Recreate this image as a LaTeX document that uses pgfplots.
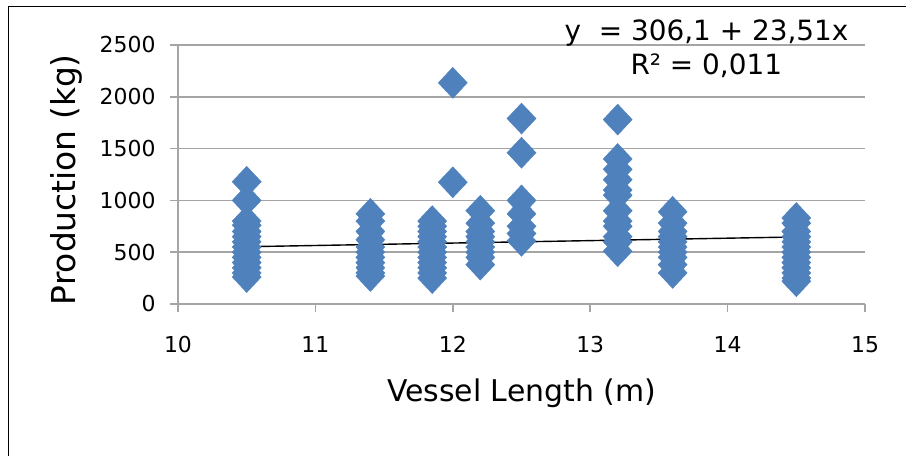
\documentclass[border=0pt]{standalone}
\usepackage{pgfplots}
\pgfplotsset{compat=1.18}
\usepackage{fontspec}
\setmainfont{DejaVu Sans}
\definecolor{mk}{RGB}{79,129,189}
\definecolor{gridc}{RGB}{165,165,165}
\begin{document}
\begin{tikzpicture}[x=1bp,y=1bp]
\useasboundingbox (0,0) rectangle (906,456);
\draw[line width=1.5bp, black] (8.5,-20) rectangle (940,449.5);
\begin{axis}[
  at={(178bp,152bp)}, anchor=south west,
  scale only axis, width=687bp, height=259bp,
  xmin=10, xmax=15, ymin=0, ymax=2500,
  xtick={10,11,12,13,14,15}, ytick={0,500,1000,1500,2000,2500},
  axis x line*=bottom, axis y line*=left,
  ymajorgrids, grid style={gridc, line width=1.5bp},
  axis line style={gridc, line width=1.5bp},
  tick style={gridc, line width=1.5bp},
  tick align=outside, major tick length=8bp,
  tick label style={font=\fontsize{22}{22}\selectfont, text=black},
  /pgf/number format/assume math mode=true,
  /pgf/number format/1000 sep={},
  xticklabel style={yshift=-21bp},
  yticklabel style={xshift=-11bp},
  xlabel={Vessel Length (m)},
  ylabel={Production (kg)},
  xlabel style={font=\fontsize{30}{30}\selectfont, at={(axis description cs:0.5,-0.344)}, anchor=center},
  ylabel style={font=\fontsize{33}{33}\selectfont, at={(axis description cs:-0.163,0.48)}, anchor=center},
  clip=false,
]
\addplot[only marks, mark=diamond*, mark size=15.5bp, mark options={fill=mk, draw=mk, xscale=1.25}]
coordinates {
(10.5,1180) (10.5,1000) (10.5,800) (10.5,760) (10.5,700) (10.5,650) (10.5,600) (10.5,550) (10.5,500) (10.5,450) (10.5,400) (10.5,350) (10.5,300) (10.5,260)
(11.4,870) (11.4,800) (11.4,700) (11.4,620) (11.4,550) (11.4,500) (11.4,450) (11.4,400) (11.4,350) (11.4,300) (11.4,270)
(11.85,800) (11.85,750) (11.85,700) (11.85,650) (11.85,600) (11.85,550) (11.85,500) (11.85,450) (11.85,400) (11.85,350) (11.85,300) (11.85,250)
(12.0,2135) (12.0,1175)
(12.2,900) (12.2,780) (12.2,700) (12.2,650) (12.2,600) (12.2,550) (12.2,500) (12.2,450) (12.2,380)
(12.5,1790) (12.5,1460) (12.5,1000) (12.5,870) (12.5,750) (12.5,680) (12.5,610)
(13.2,1780) (13.2,1400) (13.2,1300) (13.2,1200) (13.2,1100) (13.2,1050) (13.2,900) (13.2,800) (13.2,750) (13.2,650) (13.2,600) (13.2,510)
(13.6,890) (13.6,780) (13.6,700) (13.6,650) (13.6,600) (13.6,550) (13.6,500) (13.6,450) (13.6,380) (13.6,300)
(14.5,830) (14.5,780) (14.5,700) (14.5,650) (14.5,600) (14.5,550) (14.5,500) (14.5,450) (14.5,400) (14.5,350) (14.5,300) (14.5,250) (14.5,220)
};
\addplot[black, line width=1.4bp, no marks] coordinates {(10.5,552.9) (14.5,647.0)};
\node[font=\fontsize{28}{28}\selectfont, anchor=east] at (rel axis cs:0.981,1.046) {y\ \ = 306,1 + 23,51x};
\node[font=\fontsize{28}{28}\selectfont, anchor=center] at (rel axis cs:0.769,0.919) {R² = 0,011};
\end{axis}
\end{tikzpicture}
\end{document}
